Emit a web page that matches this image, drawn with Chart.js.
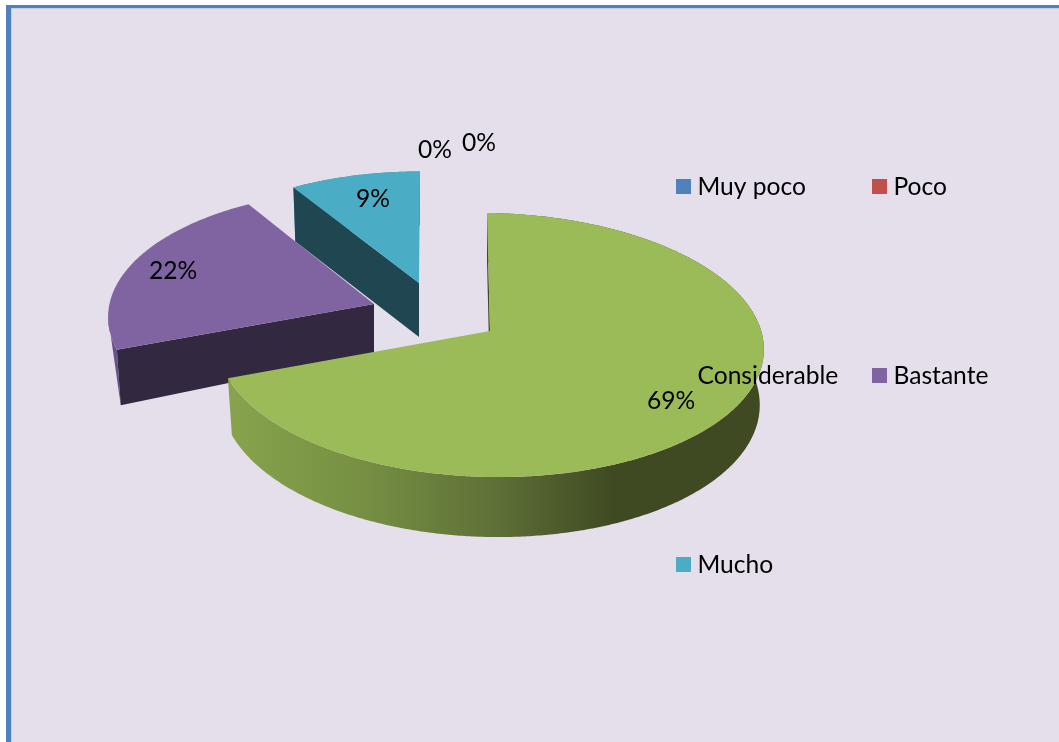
<!DOCTYPE html>
<html>
<head>
<meta charset="utf-8">
<script src="https://cdn.jsdelivr.net/npm/chart.js@4"></script>
<style>
  html, body { margin: 0; padding: 0; background: #ffffff; overflow: hidden; }
  #frame {
    position: absolute; left: 6px; top: 5px; right: 0; bottom: 0;
    background: #E5DFEC;
    border-left: 5px solid #4F81BD;
    border-top: 3px solid #4F81BD;
    box-shadow: inset 1px 1px 0 #C3CDE6;
  }
  #pieChart { position: absolute; left: 0; top: 0; }
</style>
</head>
<body>
<div id="frame"></div>
<canvas id="pieChart" width="1059" height="742"></canvas>
<script>
const categories = ['Muy poco', 'Poco', 'Considerable', 'Bastante', 'Mucho'];
const percentages = [0, 0, 69, 22, 9];
const sliceColors = ['#4F81BD', '#C0504D', '#9BBB59', '#8064A2', '#4BACC6'];
const wallColors = ['#2F4D71', '#73302E', '#3F4A22', '#32283F', '#1F4651'];
const rimColors = ['#3F6797', '#9A403E', '#3F4A22', '#6A5288', '#3C8A9E'];

// Tilted view of the pie: perspective strength and vertical flattening
const PERSPECTIVE = 0.106;
const FLATTEN = 0.48;
const FLOOR_SHRINK = 0.985;

// Exploded offset, scale and thickness of each slice on screen
const sliceViews = [
  null,
  null,
  { dx: 0, dy: 0, scale: 1, shear: 3, skew: 3, depth: 55, tilt: 5 },
  { dx: -116, dy: -27, scale: 0.97, shear: -5, skew: 3, depth: 49, tilt: 18, straightRim: true },
  { dx: -71, dy: -48, scale: 0.945, shear: -1, skew: 0, depth: 54, tilt: 0 }
];

const labelSpots = [[435, 150], [479, 143], [671, 401], [173, 271], [373, 199]];
const legendSpots = [[676, 179], [872, 179], [676, 368], [872, 368], [676, 557]];
const FONT = '24.6px Lato, Carlito, Calibri, sans-serif';

function project(el, angle, frac, view, onFloor) {
  const u = Math.cos(angle) * frac;
  const v = Math.sin(angle) * frac;
  const w = 1 - PERSPECTIVE * v;
  const shrink = onFloor ? FLOOR_SHRINK : 1;
  const x = (view.scale * u * el.outerRadius / w + view.shear * v) * shrink;
  const y = view.scale * v * el.outerRadius * FLATTEN / w + view.skew * u;
  const drop = onFloor ? view.depth + view.tilt * v : 0;
  return { x: el.x + view.dx + x, y: el.y + view.dy + y + drop };
}

function fillPoly(ctx, pts, fill) {
  ctx.beginPath();
  pts.forEach((p, i) => (i ? ctx.lineTo(p.x, p.y) : ctx.moveTo(p.x, p.y)));
  ctx.closePath();
  ctx.fillStyle = fill;
  ctx.fill();
}

function arcPoints(el, view, onFloor) {
  const pts = [];
  const steps = Math.ceil((el.endAngle - el.startAngle) / (Math.PI / 360));
  for (let i = 0; i <= steps; i++) {
    const a = el.startAngle + (el.endAngle - el.startAngle) * i / steps;
    pts.push(project(el, a, 1, view, onFloor));
  }
  return pts;
}

const pie3d = {
  id: 'pie3d',
  // Replaces the flat arcs: back slices first so the big one sits in front
  beforeDatasetsDraw(chart) {
    const ctx = chart.ctx;
    const arcs = chart.getDatasetMeta(0).data;
    for (let i = arcs.length - 1; i >= 0; i--) {
      const el = arcs[i];
      const view = sliceViews[i];
      if (!view || el.circumference === 0) continue;

      let rimFill = rimColors[i];
      if (i === 2) {
        // Big slice has a shaded rim, light on the left and dark on the right
        const grad = ctx.createLinearGradient(232, 0, 760, 0);
        grad.addColorStop(0, '#87A34C');
        grad.addColorStop(0.25, '#768F43');
        grad.addColorStop(0.5, '#5E7037');
        grad.addColorStop(0.72, '#3F4A22');
        grad.addColorStop(1, '#3F4A22');
        rimFill = grad;
      }
      const top = arcPoints(el, view, false);
      const floor = arcPoints(el, view, true);
      if (view.straightRim) {
        // Rim runs straight from the outermost point down to the floor corner
        let far = 0;
        top.forEach((p, k) => { if (p.x < top[far].x) far = k; });
        fillPoly(ctx, top.slice(0, far + 1).concat([floor[0]]), rimFill);
      } else {
        fillPoly(ctx, top.concat(floor.slice().reverse()), rimFill);
      }

      const apex = project(el, el.startAngle, 0, view, false);
      const apexFloor = project(el, el.startAngle, 0, view, true);
      fillPoly(ctx, [apex, top[0], floor[0], apexFloor], wallColors[i]);

      fillPoly(ctx, [apex].concat(top), sliceColors[i]);
    }
    return false;
  },
  afterDraw(chart) {
    const ctx = chart.ctx;
    ctx.save();
    ctx.font = FONT;
    ctx.fillStyle = '#000000';

    // Legend
    ctx.textAlign = 'left';
    ctx.textBaseline = 'alphabetic';
    categories.forEach((name, i) => {
      const [x, y] = legendSpots[i];
      ctx.fillStyle = sliceColors[i];
      ctx.fillRect(x, y, 15, 15);
      ctx.fillStyle = '#000000';
      ctx.fillText(name, x + 21.5, y + 16);
    });

    // Percentage labels
    ctx.textAlign = 'center';
    ctx.textBaseline = 'middle';
    percentages.forEach((value, i) => {
      const [x, y] = labelSpots[i];
      ctx.fillText(value + '%', x, y);
    });
    ctx.restore();
  }
};

new Chart(document.getElementById('pieChart'), {
  type: 'pie',
  data: {
    labels: categories,
    datasets: [{ data: percentages, backgroundColor: sliceColors, borderWidth: 0 }]
  },
  options: {
    responsive: false,
    animation: false,
    layout: { padding: { left: 218, right: 297, top: 59, bottom: 139 } },
    plugins: {
      legend: { display: false },
      tooltip: { enabled: false }
    }
  },
  plugins: [pie3d]
});
</script>
</body>
</html>
